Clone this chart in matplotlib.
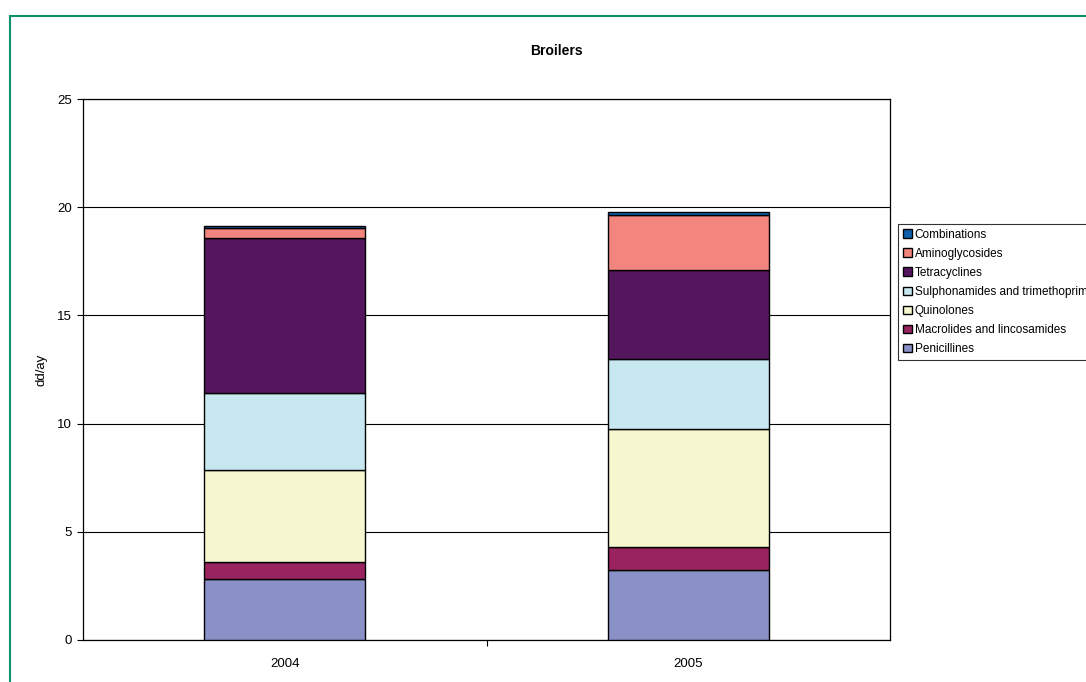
import numpy as np
import matplotlib.pyplot as plt
from matplotlib.lines import Line2D

plt.rcParams['font.family'] = ['Liberation Sans', 'DejaVu Sans']

# values (dd/ay)
years = ['2004', '2005']
classes = ['Penicillines', 'Macrolides and lincosamides', 'Quinolones',
           'Sulphonamides and trimethoprim', 'Tetracyclines',
           'Aminoglycosides', 'Combinations']
penicillines = [2.82, 3.23]
macrolides = [0.78, 1.09]
quinolones = [4.27, 5.45]
sulphonamides = [3.53, 3.22]
tetracyclines = [7.19, 4.11]
aminoglycosides = [0.47, 2.53]
combinations = [0.07, 0.17]
colours = ['#8991c6', '#98235e', '#f6f7cf', '#c8e8f1', '#54175e',
           '#f2857e', '#1060b0']

series = [penicillines, macrolides, quinolones, sulphonamides,
          tetracyclines, aminoglycosides, combinations]

fig = plt.figure(figsize=(10.86, 6.82), dpi=100)
ax = fig.add_axes([83 / 1086, 1 - 640 / 682, 807 / 1086, 541 / 682])

x = np.arange(len(years))
bottom = np.zeros(len(years))
bars = []
for vals, name, col in zip(series, classes, colours):
    b = ax.bar(x, vals, width=0.4, bottom=bottom, color=col,
               edgecolor='black', linewidth=1.0, label=name, zorder=3)
    bars.append(b)
    bottom += np.array(vals)

ax.set_xlim(-0.5, 1.5)
ax.set_ylim(0, 25)
ax.set_yticks([0, 5, 10, 15, 20, 25])
ax.yaxis.grid(True, color='black', linewidth=0.8, zorder=0)
ax.set_xticks(x)
ax.set_xticklabels(years)
ax.set_xticks([0.5], minor=True)
ax.tick_params(axis='x', which='major', length=0, labelsize=9.5, pad=13)
ax.tick_params(axis='x', which='minor', length=4, direction='out', width=0.8)
ax.tick_params(axis='y', length=4, width=0.8, labelsize=9.5, pad=4)
for s in ax.spines.values():
    s.set_linewidth(0.9)
ax.set_ylabel('dd/ay', fontsize=9.5, labelpad=7)

fig.text(556 / 1086, 1 - 51 / 682, 'Broilers', ha='center', va='center',
         fontsize=10, fontweight='bold')

leg = ax.legend(bars[::-1], classes[::-1], loc='upper left',
                bbox_to_anchor=(898 / 1086, 1 - 224 / 682),
                bbox_transform=fig.transFigure, fontsize=8.5,
                frameon=True, fancybox=False, edgecolor='black',
                borderaxespad=0, labelspacing=0.6, handlelength=0.75,
                handleheight=0.75, handletextpad=0.25, borderpad=0.4)
leg.get_frame().set_linewidth(0.8)

# green chart-area border (top and left edges visible)
gc = '#10906a'
fig.add_artist(Line2D([9.5 / 1086, 1], [1 - 15.5 / 682] * 2,
                      transform=fig.transFigure, color=gc, linewidth=1.5))
fig.add_artist(Line2D([9.5 / 1086] * 2, [0, 1 - 15.5 / 682],
                      transform=fig.transFigure, color=gc, linewidth=1.5))

fig.savefig('out.png', dpi=100)
